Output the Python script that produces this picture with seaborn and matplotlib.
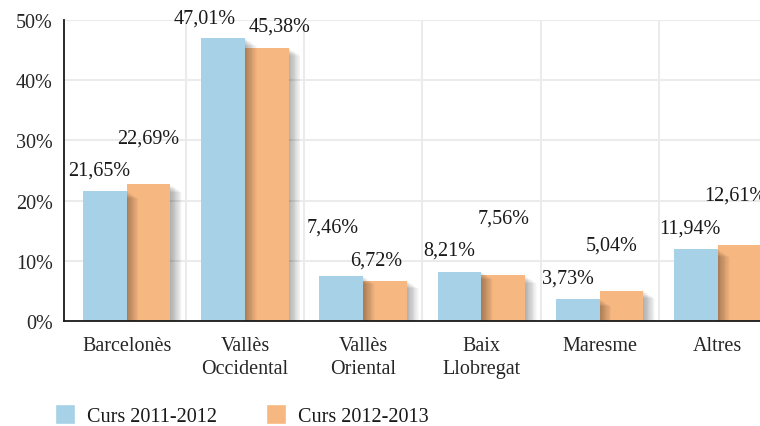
import pandas as pd
import matplotlib
matplotlib.use("Agg")
import matplotlib.pyplot as plt
import matplotlib.patheffects as pe
from matplotlib.patches import Patch
from matplotlib.ticker import FixedLocator, FuncFormatter
import seaborn as sns

# data
comarques = ["Barcelonès", "Vallès\nOccidental", "Vallès\nOriental",
             "Baix\nLlobregat", "Maresme", "Altres"]
cursos = ["Curs 2011-2012", "Curs 2012-2013"]
curs_2011 = [21.65, 47.01, 7.46, 8.21, 3.73, 11.94]
curs_2012 = [22.69, 45.38, 6.72, 7.56, 5.04, 12.61]
y_ticks = [0, 10, 20, 30, 40, 50]

# label offsets in pixels (dx, dy from bar top), staggered as in the original
off_2011 = [(-6, 16), (-18, 15), (-9, 45), (-10, 17), (-10, 16), (-6, 17)]
off_2012 = [(0, 42), (13, 17), (-9, 16), (0, 53), (-10, 41), (-4, 46)]

blue = "#a6d1e7"
orange = "#f7b780"
fs = 14.5

df = pd.DataFrame({
    "comarca": comarques * 2,
    "curs": [cursos[0]] * 6 + [cursos[1]] * 6,
    "pct": curs_2011 + curs_2012,
})

sns.set_style("white")
plt.rcParams["font.family"] = ["Liberation Serif", "DejaVu Serif"]
plt.rcParams["text.color"] = "#1a1a1a"

fig = plt.figure(figsize=(7.6, 4.27), dpi=100)
ax = fig.add_axes([64 / 760, 1 - 322 / 427, 1 - 64 / 760, (322 - 21) / 427])

sns.barplot(data=df, x="comarca", y="pct", hue="curs", hue_order=cursos,
            palette=[blue, orange], width=0.74, saturation=1, ax=ax,
            legend=False, edgecolor="none")

# soft drop shadow, blue bars above orange so their shadow falls on them
shadow = [pe.SimplePatchShadow(offset=(k * 0.6, -k * 0.4), shadow_rgbFace="k",
                               alpha=0.022) for k in range(1, 15)] + [pe.Normal()]
for z, cont in zip([3, 2], ax.containers):
    for bar in cont:
        bar.set_zorder(z)
        bar.set_path_effects(shadow)

for cont, vals, offs in zip(ax.containers, [curs_2011, curs_2012], [off_2011, off_2012]):
    for bar, v, (dx, dy) in zip(cont, vals, offs):
        ax.annotate(f"{v:.2f}".replace(".", ",") + "%",
                    xy=(bar.get_x() + bar.get_width() / 2, bar.get_height()),
                    xytext=(dx, dy), textcoords="offset pixels",
                    ha="center", va="baseline", fontsize=fs, zorder=6)

ax.set_xlim(-0.53, 5.356)
ax.set_ylim(0, 50)
ax.yaxis.set_major_locator(FixedLocator(y_ticks))
ax.yaxis.set_major_formatter(FuncFormatter(lambda v, _: f"{int(v)}%"))
ax.xaxis.set_minor_locator(FixedLocator([i + 0.5 for i in range(6)]))

ax.set_axisbelow(True)
ax.grid(axis="y", which="major", color="#ebebeb", lw=1.5)
ax.grid(axis="x", which="minor", color="#ebebeb", lw=1.5)
ax.grid(axis="x", which="major", visible=False)

ax.tick_params(axis="x", which="major", length=0, pad=11, labelsize=fs)
ax.tick_params(axis="x", which="minor", length=10, width=1.2,
               direction="inout", color="#1a1a1a")
ax.tick_params(axis="y", length=10, width=1.2, direction="inout",
               color="#1a1a1a", pad=3, labelsize=fs)
for lab in ax.get_xticklabels():
    lab.set_linespacing(1.25)

for s in ["top", "right"]:
    ax.spines[s].set_visible(False)
for s in ["left", "bottom"]:
    ax.spines[s].set_color("#1a1a1a")
    ax.spines[s].set_linewidth(1.3)
    ax.spines[s].set_zorder(5)
ax.set_xlabel("")
ax.set_ylabel("")

handles = [Patch(facecolor=blue, label=cursos[0]),
           Patch(facecolor=orange, label=cursos[1])]
fig.legend(handles=handles, loc="center left", ncol=2, frameon=False,
           bbox_to_anchor=(55 / 760, 1 - 416 / 427), fontsize=fs,
           handlelength=1.0, handleheight=1.18, handletextpad=0.6,
           columnspacing=2.4, borderpad=0, borderaxespad=0)

fig.savefig("out.png", dpi=100)
